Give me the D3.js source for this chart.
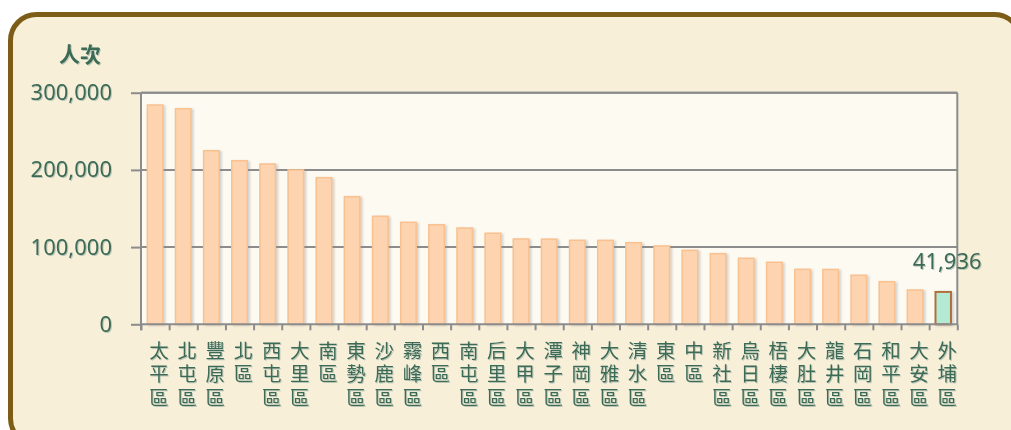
<!DOCTYPE html>
<html>
<head>
<meta charset="utf-8">
<script src="https://cdn.jsdelivr.net/npm/d3@7/dist/d3.min.js"></script>
<style>
  html, body { margin: 0; padding: 0; background: #ffffff; }
  svg { display: block; }
  .lbl { font-family: "Noto Sans", "Noto Sans CJK TC", sans-serif; fill: #3b6a55; }
  .cjk { font-family: "Noto Sans CJK TC", "Noto Sans", sans-serif; fill: #3b6a55; }
  .vert { writing-mode: vertical-rl; text-orientation: upright; }
</style>
</head>
<body>
<svg id="chart" width="1011" height="430"></svg>
<script>
// 各行政區人次
const districts = ["太平區","北屯區","豐原區","北區","西屯區","大里區","南區","東勢區","沙鹿區","霧峰區",
  "西區","南屯區","后里區","大甲區","潭子區","神岡區","大雅區","清水區","東區","中區",
  "新社區","烏日區","梧棲區","大肚區","龍井區","石岡區","和平區","大安區","外埔區"];
const visits = [284000, 279300, 224900, 211900, 207600, 199900, 189900, 165300, 139900, 132100,
  129000, 124700, 117900, 110500, 110300, 108800, 108700, 105700, 101400, 95800,
  91500, 85500, 80300, 71200, 71000, 63500, 55200, 44400, 41936];
const highlighted = "外埔區";
const yTicks = [0, 100000, 200000, 300000];
const yTitle = "人次";

const svg = d3.select("#chart");
const defs = svg.append("defs");

const textShadow = defs.append("filter").attr("id", "tshadow")
  .attr("x", "-10%").attr("y", "-10%").attr("width", "130%").attr("height", "130%");
textShadow.append("feDropShadow").attr("dx", 1).attr("dy", 1).attr("stdDeviation", 0.4)
  .attr("flood-color", "#9fb5a8").attr("flood-opacity", 0.7);

const barShadow = defs.append("filter").attr("id", "bshadow")
  .attr("x", "-30%").attr("y", "-10%").attr("width", "180%").attr("height", "120%");
barShadow.append("feDropShadow").attr("dx", 2).attr("dy", 1).attr("stdDeviation", 1.3)
  .attr("flood-color", "#888").attr("flood-opacity", 0.35);

// outer rounded panel
svg.append("rect")
  .attr("x", 10.5).attr("y", 14.5).attr("width", 1010).attr("height", 430)
  .attr("rx", 26).attr("ry", 26)
  .attr("fill", "#f8efd9").attr("stroke", "#7c5d18").attr("stroke-width", 5);

const plotLeft = 141, plotRight = 957.3, plotTop = 92.7, plotBottom = 324.3;

const x = d3.scaleBand().domain(districts).range([plotLeft, plotRight]).paddingInner(0.45).paddingOuter(0.225);
const xEdge = d3.scaleLinear().domain([0, districts.length]).range([plotLeft, plotRight]);
const y = d3.scaleLinear().domain([0, 300000]).range([plotBottom, plotTop]);

// plot background
svg.append("rect")
  .attr("x", plotLeft).attr("y", plotTop).attr("width", plotRight - plotLeft).attr("height", plotBottom - plotTop)
  .attr("fill", "#fdfaf2");

// horizontal grid lines
svg.append("g").selectAll("line").data(yTicks.filter(d => d > 0)).join("line")
  .attr("x1", plotLeft).attr("x2", plotRight)
  .attr("y1", d => y(d)).attr("y2", d => y(d))
  .attr("stroke", "#8c8c8c").attr("stroke-width", 2);

// right border
svg.append("line").attr("x1", plotRight).attr("x2", plotRight).attr("y1", plotTop).attr("y2", plotBottom)
  .attr("stroke", "#8c8c8c").attr("stroke-width", 2);

// bars
svg.append("g").selectAll("rect").data(districts).join("rect")
  .attr("x", d => x(d))
  .attr("y", (d, i) => y(visits[i]))
  .attr("width", x.bandwidth())
  .attr("height", (d, i) => plotBottom - y(visits[i]))
  .attr("fill", d => d === highlighted ? "#b4ead4" : "#fed4b0")
  .attr("stroke", d => d === highlighted ? "#b0703c" : "#f8c18f")
  .attr("stroke-width", d => d === highlighted ? 2 : 1.5)
  .attr("filter", "url(#bshadow)");

// y axis
const yAxis = svg.append("g").attr("transform", `translate(${plotLeft},0)`)
  .call(d3.axisLeft(y).tickValues(yTicks).tickFormat(d3.format(",")).tickSize(10).tickPadding(19));
yAxis.select(".domain").attr("stroke", "#8c8c8c").attr("stroke-width", 2)
  .attr("d", `M0,${plotTop}V${plotBottom + 6}`);
yAxis.selectAll(".tick line").attr("stroke", "#8c8c8c").attr("stroke-width", 2);
yAxis.selectAll(".tick text").attr("class", "lbl").attr("font-size", 22)
  .attr("fill", null).attr("filter", "url(#tshadow)");

// x axis (ticks at category boundaries)
const xAxis = svg.append("g").attr("transform", `translate(0,${plotBottom})`)
  .call(d3.axisBottom(xEdge).tickValues(d3.range(districts.length + 1)).tickSize(6).tickFormat(""));
xAxis.select(".domain").attr("stroke", "#8c8c8c").attr("stroke-width", 2)
  .attr("d", `M${plotLeft},0H${plotRight}`);
xAxis.selectAll(".tick line").attr("stroke", "#8c8c8c").attr("stroke-width", 2);

// top border
svg.append("line").attr("x1", plotLeft).attr("x2", plotRight).attr("y1", plotTop).attr("y2", plotTop)
  .attr("stroke", "#8c8c8c").attr("stroke-width", 2);

// category labels: one character per row, stacked downward
const labels = svg.append("g").attr("filter", "url(#tshadow)");
districts.forEach(name => {
  const cx = x(name) + x.bandwidth() / 2 + 4;
  Array.from(name).forEach((ch, j) => {
    labels.append("text").attr("class", "cjk vert")
      .attr("x", cx).attr("y", 341 + j * 23.3)
      .attr("font-size", 19.5)
      .text(ch);
  });
});

// value label on highlighted bar
const hi = districts.indexOf(highlighted);
svg.append("text").attr("class", "lbl")
  .attr("x", x(highlighted) + x.bandwidth() / 2 + 4)
  .attr("y", y(visits[hi]) - 23)
  .attr("text-anchor", "middle").attr("font-size", 22)
  .attr("filter", "url(#tshadow)")
  .text(d3.format(",")(visits[hi]));

// y axis title
svg.append("text").attr("class", "cjk")
  .attr("x", 80).attr("y", 62).attr("text-anchor", "middle")
  .attr("font-size", 21).attr("font-weight", "bold")
  .attr("filter", "url(#tshadow)")
  .text(yTitle);
</script>
</body>
</html>
